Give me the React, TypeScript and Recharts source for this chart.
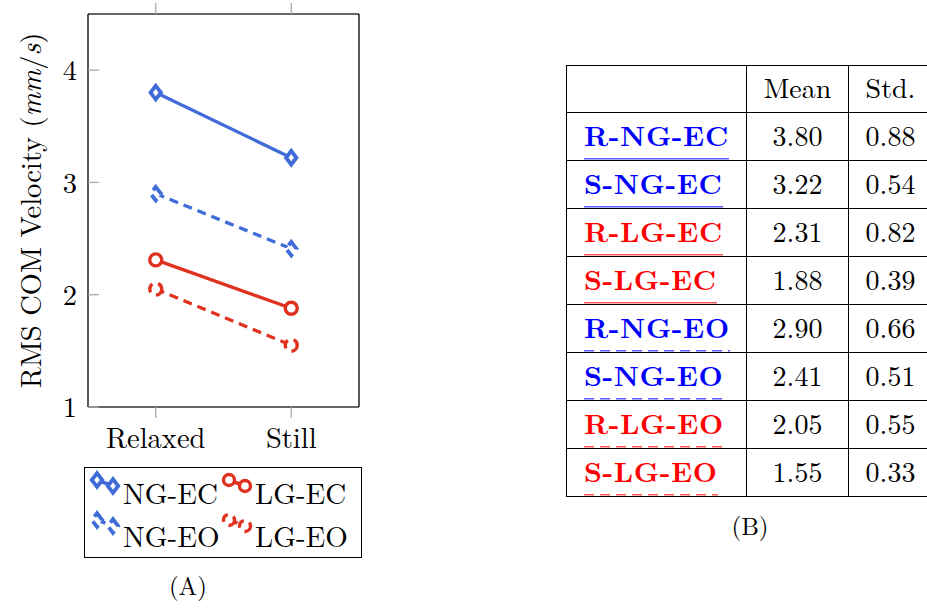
import React from "react";
import { LineChart, Line, XAxis, YAxis, Legend, Label } from "recharts";

// chart (A)
const conditions = ["Relaxed", "Still"];
const ngEC = [3.8, 3.22];
const ngEO = [2.9, 2.41];
const lgEC = [2.31, 1.88];
const lgEO = [2.05, 1.55];
const yTicks = [1, 2, 3, 4];

// table (B)
const tableLabels = ["R-NG-EC", "S-NG-EC", "R-LG-EC", "S-LG-EC", "R-NG-EO", "S-NG-EO", "R-LG-EO", "S-LG-EO"];
const tableMeans = [3.8, 3.22, 2.31, 1.88, 2.9, 2.41, 2.05, 1.55];
const tableStds = [0.88, 0.54, 0.82, 0.39, 0.66, 0.51, 0.55, 0.33];

const BLUE = "#3f6cd8";
const RED = "#e0311f";
const FONT = "'Latin Modern Roman', 'Liberation Serif', serif";
const DASH = "9 6";

const data = conditions.map((c, i) => ({
  x: i,
  ngEC: ngEC[i],
  ngEO: ngEO[i],
  lgEC: lgEC[i],
  lgEO: lgEO[i],
}));

const series = [
  { key: "ngEC", name: "NG-EC", color: BLUE, dashed: false, mark: "diamond" },
  { key: "lgEC", name: "LG-EC", color: RED, dashed: false, mark: "circle" },
  { key: "ngEO", name: "NG-EO", color: BLUE, dashed: true, mark: "diamond" },
  { key: "lgEO", name: "LG-EO", color: RED, dashed: true, mark: "circle" },
];

const diamondPath = (cx: number, cy: number, w = 5.2, h = 6.8) =>
  `M${cx},${cy - h} L${cx + w},${cy} L${cx},${cy + h} L${cx - w},${cy} Z`;

const DiamondDot = (props: any) => {
  const { cx, cy, stroke, strokeDasharray } = props;
  if (cx == null || cy == null) return <g />;
  return (
    <path
      d={diamondPath(cx, cy)}
      fill="#fff"
      stroke={stroke}
      strokeWidth={3.8}
      strokeDasharray={strokeDasharray}
    />
  );
};

const CircleDot = (props: any) => {
  const { cx, cy, stroke, strokeDasharray } = props;
  if (cx == null || cy == null) return <g />;
  return (
    <circle
      cx={cx}
      cy={cy}
      r={6}
      fill="#fff"
      stroke={stroke}
      strokeWidth={3.4}
      strokeDasharray={strokeDasharray}
    />
  );
};

const EmptyTick = () => <g />;

const YLabel = (props: any) => {
  const { viewBox } = props;
  const cx = 29;
  const cy = viewBox.y + viewBox.height / 2;
  return (
    <text
      x={cx}
      y={cy}
      transform={`rotate(-90, ${cx}, ${cy})`}
      textAnchor="middle"
      dominantBaseline="central"
      fontSize={28.5}
      fontFamily={FONT}
      fill="#000"
    >
      RMS COM Velocity (<tspan fontStyle="italic">mm</tspan>/<tspan fontStyle="italic">s</tspan>)
    </text>
  );
};

const LegendBox = () => (
  <div
    style={{
      position: "relative",
      width: 278,
      height: 91,
      border: "1.3px solid #000",
      boxSizing: "border-box",
      background: "#fff",
      fontFamily: FONT,
      fontSize: 29,
      color: "#000",
    }}
  >
    {series.map((s, i) => {
      const colX = (i % 2) * 132;
      const rowY = i < 2 ? 12 : 52;
      const textY = i < 2 ? 24 : 67;
      const dash = s.dashed ? DASH : undefined;
      return (
        <React.Fragment key={s.key}>
          <svg
            width={40}
            height={30}
            style={{ position: "absolute", left: colX, top: rowY - 12, overflow: "visible" }}
          >
            <line x1={12} y1={12} x2={28} y2={18} stroke={s.color} strokeWidth={3.5} strokeDasharray={dash} />
            {[
              [12, 12],
              [28, 18],
            ].map(([x, y], j) =>
              s.mark === "diamond" ? (
                <path key={j} d={diamondPath(x, y)} fill="#fff" stroke={s.color} strokeWidth={3.8} strokeDasharray={dash} />
              ) : (
                <circle key={j} cx={x} cy={y} r={5.5} fill="#fff" stroke={s.color} strokeWidth={3.4} strokeDasharray={dash} />
              )
            )}
          </svg>
          <div
            style={{
              position: "absolute",
              left: colX + 38,
              top: textY - 16,
              lineHeight: "32px",
              whiteSpace: "nowrap",
            }}
          >
            {s.name}
          </div>
        </React.Fragment>
      );
    })}
  </div>
);

const cellBorder = "1.5px solid #000";
const numCell = { border: cellBorder, textAlign: "center" as const, padding: "0 0 6px 0" };

const underline = (color: string, dashed: boolean) =>
  dashed
    ? `repeating-linear-gradient(to right, ${color} 0 10px, transparent 10px 16px)`
    : `linear-gradient(${color}, ${color})`;

const App = () => (
  <div
    style={{
      position: "fixed",
      left: 0,
      top: 0,
      width: 927,
      height: 608,
      overflow: "hidden",
      background: "#fff",
    }}
  >
    <div style={{ position: "absolute", left: 0, top: 0 }}>
      <LineChart
        width={380}
        height={600}
        data={data}
        margin={{ top: 13, right: 20, bottom: 143, left: 28 }}
        style={{ fontFamily: FONT }}
      >
        <XAxis
          xAxisId="bottom"
          dataKey="x"
          type="number"
          domain={[-0.5, 1.5]}
          ticks={[0, 1]}
          tickFormatter={(v: number) => conditions[v]}
          height={50}
          tickSize={11}
          tickMargin={10}
          tickLine={{ stroke: "#aaa", strokeWidth: 1.3 }}
          axisLine={{ stroke: "#333", strokeWidth: 1.3 }}
          tick={{ fill: "#000", fontSize: 28.5, fontFamily: FONT }}
        />
        <XAxis
          xAxisId="top"
          orientation="top"
          dataKey="x"
          type="number"
          domain={[-0.5, 1.5]}
          ticks={[0, 1]}
          height={1}
          tickSize={11}
          tickLine={{ stroke: "#aaa", strokeWidth: 1.3 }}
          axisLine={{ stroke: "#333", strokeWidth: 1.3 }}
          tick={EmptyTick}
        />
        <YAxis
          yAxisId="left"
          type="number"
          domain={[1, 4.5]}
          ticks={yTicks}
          width={60}
          tickSize={-11}
          tickMargin={22}
          tickLine={{ stroke: "#aaa", strokeWidth: 1.3 }}
          axisLine={{ stroke: "#000", strokeWidth: 1.3 }}
          tick={{ fill: "#000", fontSize: 28.5, fontFamily: FONT }}
        >
          <Label content={YLabel} />
        </YAxis>
        <YAxis
          yAxisId="right"
          orientation="right"
          type="number"
          domain={[1, 4.5]}
          ticks={yTicks}
          width={1}
          tickSize={-11}
          tickLine={{ stroke: "#aaa", strokeWidth: 1.3 }}
          axisLine={{ stroke: "#000", strokeWidth: 1.3 }}
          tick={EmptyTick}
        />
        {[series[0], series[2], series[1], series[3]].map((s) => (
          <Line
            key={s.key}
            xAxisId="bottom"
            yAxisId="left"
            dataKey={s.key}
            name={s.name}
            stroke={s.color}
            strokeWidth={3.3}
            strokeDasharray={s.dashed ? DASH : undefined}
            dot={s.mark === "diamond" ? DiamondDot : CircleDot}
            activeDot={false}
            isAnimationActive={false}
          />
        ))}
        <Legend
          layout="horizontal"
          verticalAlign="middle"
          align="center"
          content={LegendBox}
          wrapperStyle={{ top: 467, left: 84, width: 278, height: 91 }}
        />
      </LineChart>
    </div>

    <div
      style={{
        position: "absolute",
        left: 138,
        top: 570,
        width: 100,
        textAlign: "center",
        fontFamily: FONT,
        fontSize: 25,
        lineHeight: "30px",
      }}
    >
      (A)
    </div>

    <table
      style={{
        position: "absolute",
        left: 566,
        top: 65,
        borderCollapse: "collapse",
        tableLayout: "fixed",
        width: 366,
        fontFamily: FONT,
        fontSize: 28,
        color: "#000",
      }}
    >
      <colgroup>
        <col style={{ width: 180 }} />
        <col style={{ width: 102 }} />
        <col style={{ width: 84 }} />
      </colgroup>
      <tbody>
        <tr style={{ height: 47 }}>
          <td style={{ border: cellBorder }} />
          <td style={numCell}>Mean</td>
          <td style={numCell}>Std.</td>
        </tr>
        {tableLabels.map((label, i) => {
          const isBlue = label.includes("NG");
          const isOpen = label.includes("EO");
          return (
            <tr key={label} style={{ height: 48 }}>
              <td style={{ border: cellBorder, padding: "0 0 6px 17px", whiteSpace: "nowrap" }}>
                <span
                  style={{
                    fontWeight: "bold",
                    letterSpacing: 0.6,
                    color: isBlue ? "#0000ff" : "#ff0000",
                    paddingBottom: 6,
                    backgroundImage: underline(isBlue ? "#5a5aff" : "#ff5a5a", isOpen),
                    backgroundRepeat: "no-repeat",
                    backgroundPosition: "0 100%",
                    backgroundSize: "100% 1.5px",
                  }}
                >
                  {label}
                </span>
              </td>
              <td style={numCell}>{tableMeans[i].toFixed(2)}</td>
              <td style={numCell}>{tableStds[i].toFixed(2)}</td>
            </tr>
          );
        })}
      </tbody>
    </table>

    <div
      style={{
        position: "absolute",
        left: 700,
        top: 510,
        width: 100,
        textAlign: "center",
        fontFamily: FONT,
        fontSize: 25,
        lineHeight: "30px",
      }}
    >
      (B)
    </div>
  </div>
);

export default App;
